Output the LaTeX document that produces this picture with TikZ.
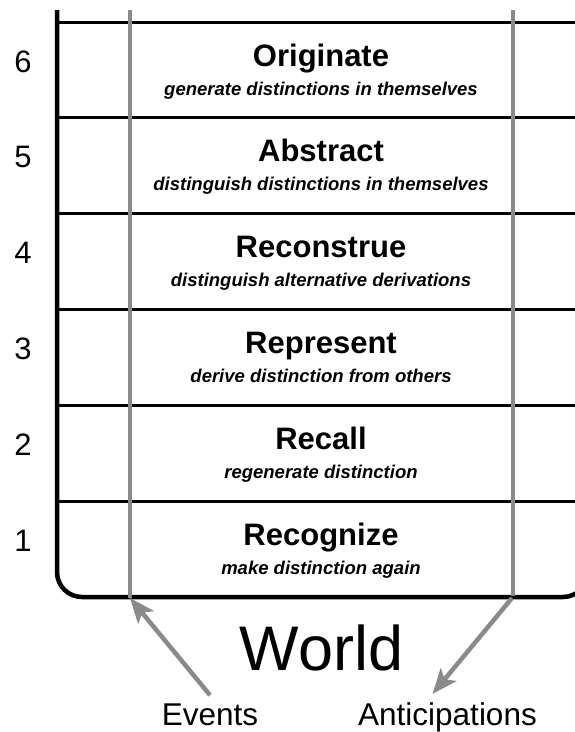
\documentclass[tikz,border=0pt]{standalone}
\usepackage{fontspec}
\setmainfont{Liberation Sans}
\usepackage{xcolor}
\usetikzlibrary{arrows.meta, positioning}

\definecolor{trackgray}{HTML}{8A8A8A}

\begin{document}
\begin{tikzpicture}[
  x=1pt, y=-1pt,
  level/.style = {font=\fontsize{31}{35}\selectfont\bfseries,
                  inner sep=0pt, anchor=base},
  gloss/.style = {font=\fontsize{18.5}{22}\selectfont\bfseries\itshape,
                  inner sep=0pt, anchor=base},
  num/.style   = {font=\fontsize{31}{35}\selectfont, inner sep=0pt,
                  anchor=base},
  label/.style = {font=\fontsize{31.5}{35}\selectfont, inner sep=8pt,
                  anchor=base},
  frame/.style = {line width=4.5pt, rounded corners=25pt},
  rule/.style  = {line width=3pt},
  track/.style = {line width=4.5pt, draw=trackgray},
  arr/.style   = {-{Stealth[length=25pt, width=20pt, inset=6pt]},
                  line width=4.5pt, draw=trackgray}
]

\useasboundingbox (0,0) rectangle (575,732);
\clip (0,0) rectangle (575,732);

% ===================== FRAME AND ROWS =====================
\draw[frame] (57,10) -- (57,597) -- (588,597) -- (588,10);

\draw[rule] (57,22)    -- (590,22);
\draw[rule] (57,117.8) -- (590,117.8);
\draw[rule] (57,213.6) -- (590,213.6);
\draw[rule] (57,309.4) -- (590,309.4);
\draw[rule] (57,405.2) -- (590,405.2);
\draw[rule] (57,501)   -- (590,501);

% ===================== LEVELS =====================
\node[num]   (n6) at (23,72)    {6};
\node[level] (t6) at (321,66)   {Originate};
\node[gloss] (s6) at (321,95)   {generate distinctions in themselves};

\node[num]   (n5) at (23,167.8) {5};
\node[level] (t5) at (321,161.8) {Abstract};
\node[gloss] (s5) at (321,190.8) {distinguish distinctions in themselves};

\node[num]   (n4) at (23,263.6) {4};
\node[level] (t4) at (321,257.6) {Reconstrue};
\node[gloss] (s4) at (321,286.6) {distinguish alternative derivations};

\node[num]   (n3) at (23,359.4) {3};
\node[level] (t3) at (321,353.4) {Represent};
\node[gloss] (s3) at (321,382.4) {derive distinction from others};

\node[num]   (n2) at (23,455.2) {2};
\node[level] (t2) at (321,449.2) {Recall};
\node[gloss] (s2) at (321,478.2) {regenerate distinction};

\node[num]   (n1) at (23,551)   {1};
\node[level] (t1) at (321,545)  {Recognize};
\node[gloss] (s1) at (321,574)  {make distinction again};

% ===================== EVENT / ANTICIPATION TRACKS =====================
\coordinate (evfoot) at (130,598);
\coordinate (anfoot) at (512,598);
\draw[track] (130,10) -- (evfoot);
\draw[track] (513,10) -- (513,596);

% ===================== WORLD =====================
\node[font=\fontsize{63}{70}\selectfont, inner sep=0pt, anchor=base]
  (world) at (321.5,670) {World};

\node[label] (events) at (210,725)   {Events};
\node[label] (antic)  at (447.5,725) {Anticipations};

\draw[arr] (events.north) -- (evfoot);
\draw[arr] (anfoot) -- ([xshift=-15pt]antic.north);

\end{tikzpicture}
\end{document}
